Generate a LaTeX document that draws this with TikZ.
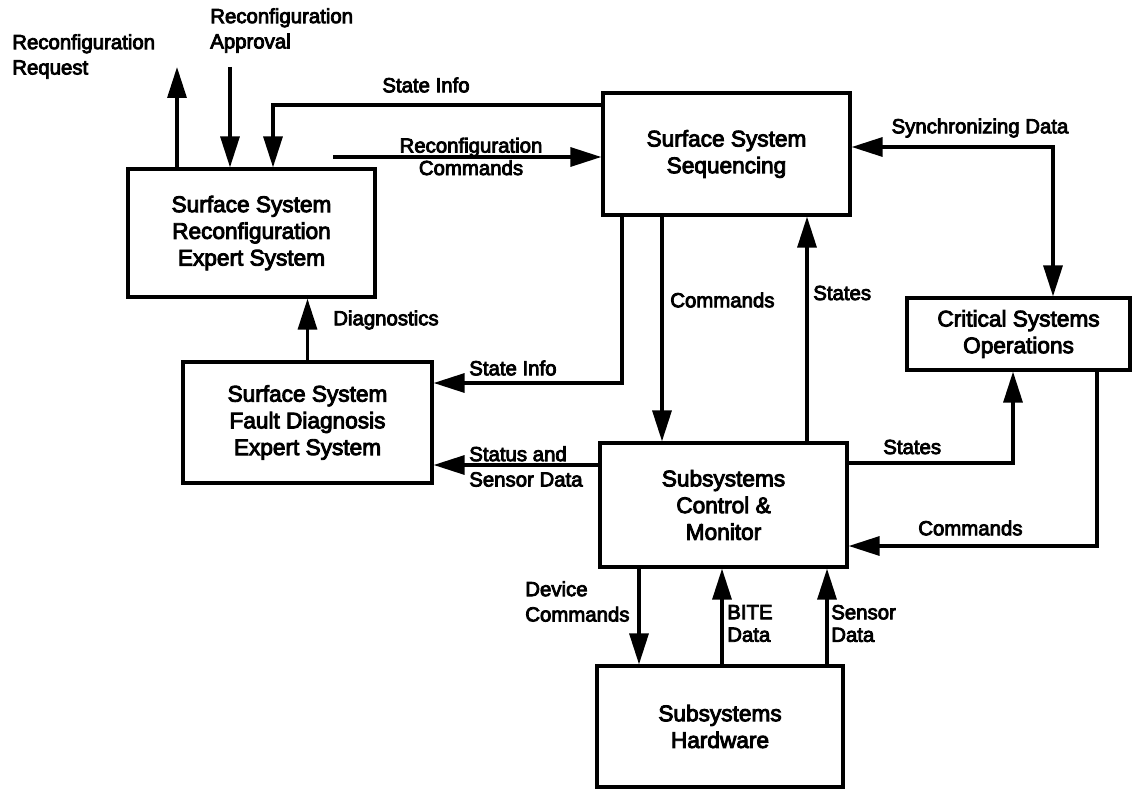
\documentclass[tikz,border=0pt]{standalone}
\usepackage{fontspec}
\newfontfamily\diafont{Liberation Sans}[BoldFont={Liberation Sans}, BoldFeatures={FakeBold=4}]
\usetikzlibrary{arrows.meta,calc}

\begin{document}
\begin{tikzpicture}[
  x=0.025cm, y=-0.025cm,
  block/.style={draw, line width=2.3pt, minimum width=6.175cm, minimum height=3.05cm,
                align=center, font=\diafont\bfseries\fontsize{16.1}{19}\selectfont},
  lbl/.style={inner sep=0pt, anchor=west, align=left,
              font=\diafont\bfseries\fontsize{14.5}{18}\selectfont},
  tight/.style={font=\diafont\bfseries\fontsize{14.5}{16}\selectfont},
  flow/.style={->, line width=2.3pt},
  >={Triangle[length=22pt,width=13.5pt]}
]
\useasboundingbox (0,0) rectangle (1135,788);

% blocks
\node[block, minimum height=3.2cm] (recon) at (251.5,233) {Surface System\\Reconfiguration\\Expert System};
\node[block] (seq) at (726.5,154) {Surface System\\Sequencing};
\node[block, minimum width=6.225cm, minimum height=3.025cm] (fault) at (307.5,422.5) {Surface System\\Fault Diagnosis\\Expert System};
\node[block, minimum height=3.1cm] (ctrl) at (723.5,505) {Subsystems\\Control \&\\Monitor};
\node[block, minimum width=5.575cm, minimum height=1.8cm] (crit) at (1018.5,334) {Critical Systems\\Operations};
\node[block, minimum width=6.15cm, minimum height=3.025cm] (hw) at (720,726.5) {Subsystems\\Hardware};

% rails
\coordinate (reqtip)  at (177,67);
\coordinate (apptail) at (230,67);
\coordinate (infoA)   at (273,105);
\coordinate (cmdtail) at (333,157);
\coordinate (syncA)   at (1053,147);
\coordinate (cmdB)    at (662,0);
\coordinate (stB)     at (807,0);
\coordinate (infoB)   at (622,383);
\coordinate (statB)   at (0,465);
\coordinate (stC)     at (1013,463);
\coordinate (cmdC)    at (1097,546);
\coordinate (devB)    at (639,0);
\coordinate (biteB)   at (722,0);
\coordinate (sensB)   at (827,0);

% connectors
\draw[flow] (recon.north -| reqtip) -- (reqtip);
\draw[flow] (apptail) -- (recon.north -| apptail);
\draw[flow] (seq.west |- infoA) -- (infoA) -- (recon.north -| infoA);
\draw[flow] (cmdtail) -- (seq.west |- cmdtail);
\draw[flow, <->] (seq.east |- syncA) -- (syncA) -- (crit.north -| syncA);
\draw[flow] (seq.south -| cmdB) -- (ctrl.north -| cmdB);
\draw[flow] (ctrl.north -| stB) -- (seq.south -| stB);
\draw[flow] (seq.south -| infoB) -- (infoB) -- (fault.east |- infoB);
\draw[flow] (fault.north) -- (recon.south -| fault.north);
\draw[flow] (ctrl.west |- statB) -- (fault.east |- statB);
\draw[flow] (ctrl.east |- stC) -- (stC) -- (crit.south -| stC);
\draw[flow] (crit.south -| cmdC) -- (cmdC) -- (ctrl.east |- cmdC);
\draw[flow] (ctrl.south -| devB) -- (hw.north -| devB);
\draw[flow] (hw.north -| biteB) -- (ctrl.south -| biteB);
\draw[flow] (hw.north -| sensB) -- (ctrl.south -| sensB);

% labels
\node[lbl] (lReq) at (12,56.5) {Reconfiguration\\Request};
\node[lbl] (lApp) at (210,30.5) {Reconfiguration\\Approval};
\node[lbl, anchor=center] (lInfoA) at (426,85) {State Info};
\node[lbl, tight, anchor=center, align=center] (lCmdA) at (471,156.5) {Reconfiguration\\Commands};
\node[lbl, anchor=center] (lSync) at (980,128) {Synchronizing Data};
\node[lbl] (lCmdB) at (670,300) {Commands};
\node[lbl] (lStB) at (813,293) {States};
\node[lbl] (lDiag) at (333,320) {Diagnostics};
\node[lbl] (lInfoB) at (469,368) {State Info};
\node[lbl] (lStat) at (469,466.5) {Status and\\Sensor Data};
\node[lbl] (lStC) at (883,447) {States};
\node[lbl] (lCmdC) at (918,528) {Commands};
\node[lbl] (lDev) at (525,601.5) {Device\\Commands};
\node[lbl, tight] (lBite) at (727,623.5) {BITE\\Data};
\node[lbl, tight] (lSens) at (831,623.5) {Sensor\\Data};
\end{tikzpicture}
\end{document}
